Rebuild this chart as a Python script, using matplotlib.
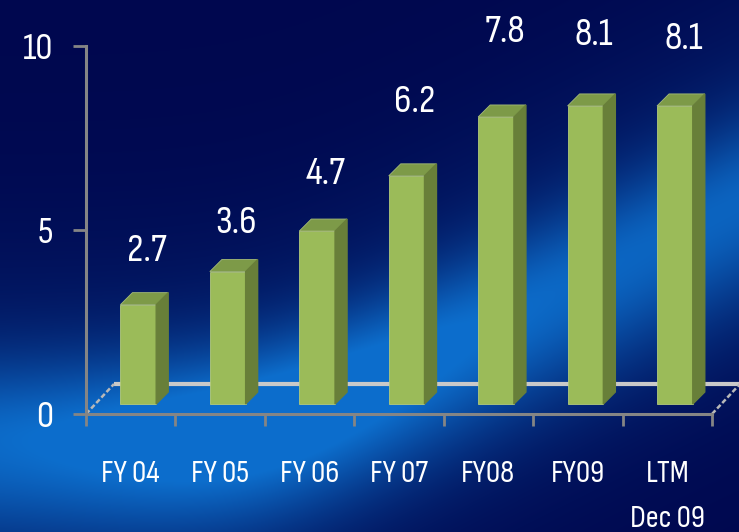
import numpy as np
import matplotlib.pyplot as plt
import matplotlib.transforms as mtransforms

categories = ["FY 04", "FY 05", "FY 06", "FY 07", "FY08", "FY09", "LTM\nDec 09"]
values = [2.7, 3.6, 4.7, 6.2, 7.8, 8.1, 8.1]
yticks = [0, 5, 10]
# how far above each bar its value label sits (data units)
label_gap = [1.47, 1.33, 1.54, 2.00, 2.31, 1.93, 1.82]

W, H, dpi = 739, 532, 100
plt.rcParams['font.family'] = ['Sofia Sans Condensed', 'PT Sans Narrow', 'DejaVu Sans']

fig = plt.figure(figsize=(W / dpi, H / dpi), dpi=dpi)

# --- blue slide background: dark navy with a soft bright streak that
# runs along the bottom left, then climbs to the right edge
bg = fig.add_axes([0, 0, 1, 1], zorder=-10)
u, v = np.meshgrid(np.linspace(0, 1, W), np.linspace(0, 1, H))
k = 0.08
vc = 0.83 - 0.69 * k * np.log1p(np.exp((u - 0.35) / k))
dv = v - vc
sig = np.where(dv > 0, 0.19, 0.15)
amp = 0.65 + 0.35 * np.exp(-((u - 0.35) / 0.28) ** 2)
band = amp * np.exp(-(dv / sig) ** 2) + 0.25 * np.exp(-(dv / 0.35) ** 2)
band = np.clip(band, 0, 1)
dark = np.array([0.0, 0.03, 0.31])
bright = np.array([0.05, 0.43, 0.80])
img = dark + band[..., None] * (bright - dark)
bg.imshow(img, aspect='auto', extent=(0, 1, 0, 1), origin='upper')
bg.set_xlim(0, 1)
bg.set_ylim(0, 1)
bg.axis('off')

# --- main axes
ax = fig.add_axes([86 / W, (H - 414) / H, (712 - 86) / W, (414 - 46) / H])
ax.patch.set_alpha(0)
ax.set_xlim(-0.5, 6.5)
ax.set_ylim(0, 10)

axis_grey = '#858585'
for side in ['top', 'right']:
    ax.spines[side].set_visible(False)
for side in ['left', 'bottom']:
    ax.spines[side].set_color(axis_grey)
    ax.spines[side].set_linewidth(2.2)

ax.set_yticks(yticks)
ax.set_yticklabels([str(t) for t in yticks])
ax.tick_params(axis='y', direction='out', length=9.5, width=2, color=axis_grey,
               labelcolor='white', labelsize=27.5, pad=14)

x = np.arange(len(categories))
ax.set_xticks(np.arange(-0.5, len(categories)))
ax.set_xticklabels([])
ax.set_xticks(x, minor=True)
ax.set_xticklabels(categories, minor=True, linespacing=1.8)
ax.tick_params(axis='x', which='major', direction='out', length=8.5, width=2,
               color=axis_grey)
ax.tick_params(axis='x', which='minor', length=0, labelcolor='white',
               labelsize=23, pad=33)

# --- floor of the 3d chart
px_x = 626 / 7
px_y = 368 / 10
fdx, fdy = 28 / px_x, 30 / px_y
ax.plot([-0.5 + fdx, 6.5 + fdx], [fdy, fdy], color='#c9c9c9', lw=3,
        solid_capstyle='butt', zorder=1, clip_on=False)
for x0 in [-0.5, 6.5]:
    ax.plot([x0, x0 + fdx], [0, fdy], color='#b9b9b9', lw=1.8,
            ls=(0, (2, 1)), zorder=1, clip_on=False)

# --- 3d bars: front face lifted a little off the axis
front = mtransforms.offset_copy(ax.transData, fig=fig, x=0, y=10, units='dots')
bw, shift = 0.40, -0.115
ddx, ddy = 12 / px_x, 12 / px_y
ax.bar(x + shift, values, width=bw, align='edge', color='#9bbb59',
       edgecolor='#b3ca7c', linewidth=0.6, transform=front, zorder=3,
       clip_on=False)
for i, val in enumerate(values):
    x0 = i + shift
    x1 = x0 + bw
    ax.fill([x0, x1, x1 + ddx, x0 + ddx], [val, val, val + ddy, val + ddy],
            color='#7d9a48', transform=front, zorder=3, clip_on=False,
            ec='#a5bb78', lw=0.6)
    ax.fill([x1, x1, x1 + ddx, x1 + ddx], [0, val, val + ddy, ddy],
            color='#687f39', transform=front, zorder=3, clip_on=False)
    ax.text(i + 0.18, val + label_gap[i], f"{val}", ha='center', va='baseline',
            fontsize=28.5, color='white', clip_on=False)

fig.savefig('out.png', dpi=dpi)
